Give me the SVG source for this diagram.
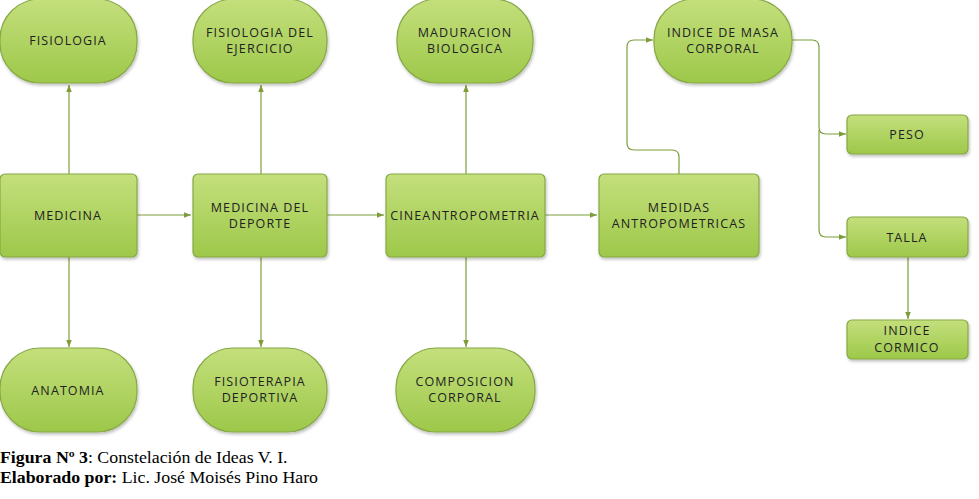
<svg xmlns="http://www.w3.org/2000/svg" width="979" height="499" viewBox="0 0 979 499">
<defs>
<linearGradient id="g" x1="0" y1="0" x2="0" y2="1">
<stop offset="0" stop-color="#c4df7c"/>
<stop offset="1" stop-color="#9dc84a"/>
</linearGradient>
<filter id="sh" x="-10%" y="-10%" width="130%" height="130%">
<feDropShadow dx="1" dy="2" stdDeviation="1.5" flood-color="#000" flood-opacity="0.25"/>
</filter>
<marker id="a" viewBox="0 0 10 10" refX="10" refY="5" markerWidth="6" markerHeight="6" orient="auto">
<path d="M0,1 L10,5 L0,9 z" fill="#7d9d3c"/>
</marker>
<style>
.n{fill:url(#g);stroke:#86a845;stroke-width:1.2;filter:url(#sh)}
.t{font-family:"Open Sans","Liberation Sans",sans-serif;font-size:12.5px;fill:#222;text-anchor:middle;letter-spacing:1.1px}
.c{fill:none;stroke:#7d9d3c;stroke-width:1.2;marker-end:url(#a)}
.cap{font-family:"Liberation Serif",serif;font-size:16.5px;fill:#000}
</style>
</defs>
<g id="connectors">
<path class="c" d="M69,174 V85"/>
<path class="c" d="M69,257 V347"/>
<path class="c" d="M137,215 H191"/>
<path class="c" d="M261,174 V85"/>
<path class="c" d="M261,257 V347"/>
<path class="c" d="M327,215 H384"/>
<path class="c" d="M466,174 V85"/>
<path class="c" d="M466,257 V347"/>
<path class="c" d="M545,215 H597"/>
<path class="c" d="M679,174 V157 Q679,150 672,150 H634 Q627,150 627,143 V47 Q627,40 634,40 H653"/>
<path class="c" d="M792,40 H812 Q819,40 819,47 V127 Q819,134 826,134 H846"/>
<path class="c" d="M819,130 V230 Q819,237 826,237 H846"/>
<path class="c" d="M908,257 V319"/>
</g>
<g id="fisiologia"><rect class="n" x="0" y="-1" width="137" height="84" rx="40"/><text class="t" x="68" y="45">FISIOLOGIA</text></g>
<g id="fisiologia-ejercicio"><rect class="n" x="193" y="-1" width="134" height="84" rx="40"/><text class="t" x="260" y="37">FISIOLOGIA DEL</text><text class="t" x="260" y="53">EJERCICIO</text></g>
<g id="maduracion"><rect class="n" x="397" y="-1" width="136" height="84" rx="40"/><text class="t" x="465" y="37">MADURACION</text><text class="t" x="465" y="53">BIOLOGICA</text></g>
<g id="imc"><rect class="n" x="654" y="-1" width="138" height="84" rx="40"/><text class="t" x="723" y="37">INDICE DE MASA</text><text class="t" x="723" y="53">CORPORAL</text></g>
<g id="medicina"><rect class="n" x="0" y="174" width="137" height="83" rx="5"/><text class="t" x="68" y="220">MEDICINA</text></g>
<g id="medicina-deporte"><rect class="n" x="193" y="174" width="134" height="83" rx="5"/><text class="t" x="260" y="212">MEDICINA DEL</text><text class="t" x="260" y="228">DEPORTE</text></g>
<g id="cineantropometria"><rect class="n" x="386" y="174" width="159" height="83" rx="5"/><text class="t" x="465" y="220">CINEANTROPOMETRIA</text></g>
<g id="medidas"><rect class="n" x="599" y="174" width="160" height="83" rx="5"/><text class="t" x="679" y="212">MEDIDAS</text><text class="t" x="679" y="228">ANTROPOMETRICAS</text></g>
<g id="peso"><rect class="n" x="847" y="115" width="121" height="39" rx="5"/><text class="t" x="907" y="139">PESO</text></g>
<g id="talla"><rect class="n" x="847" y="217" width="121" height="40" rx="5"/><text class="t" x="907" y="242">TALLA</text></g>
<g id="indice-cormico"><rect class="n" x="847" y="320" width="121" height="39" rx="5"/><text class="t" x="907" y="335">INDICE</text><text class="t" x="907" y="352">CORMICO</text></g>
<g id="anatomia"><rect class="n" x="0" y="348" width="137" height="84" rx="40"/><text class="t" x="68" y="395">ANATOMIA</text></g>
<g id="fisioterapia"><rect class="n" x="193" y="348" width="134" height="84" rx="40"/><text class="t" x="260" y="386">FISIOTERAPIA</text><text class="t" x="260" y="402">DEPORTIVA</text></g>
<g id="composicion"><rect class="n" x="396" y="348" width="139" height="84" rx="40"/><text class="t" x="465" y="386">COMPOSICION</text><text class="t" x="465" y="402">CORPORAL</text></g>
<g id="caption" transform="scale(1.08,1)">
<text class="cap" x="0" y="463"><tspan font-weight="bold">Figura Nº 3</tspan>: Constelación de Ideas V. I.</text>
<text class="cap" x="0" y="483"><tspan font-weight="bold">Elaborado por:</tspan> Lic. José Moisés Pino Haro</text>
</g>
</svg>
